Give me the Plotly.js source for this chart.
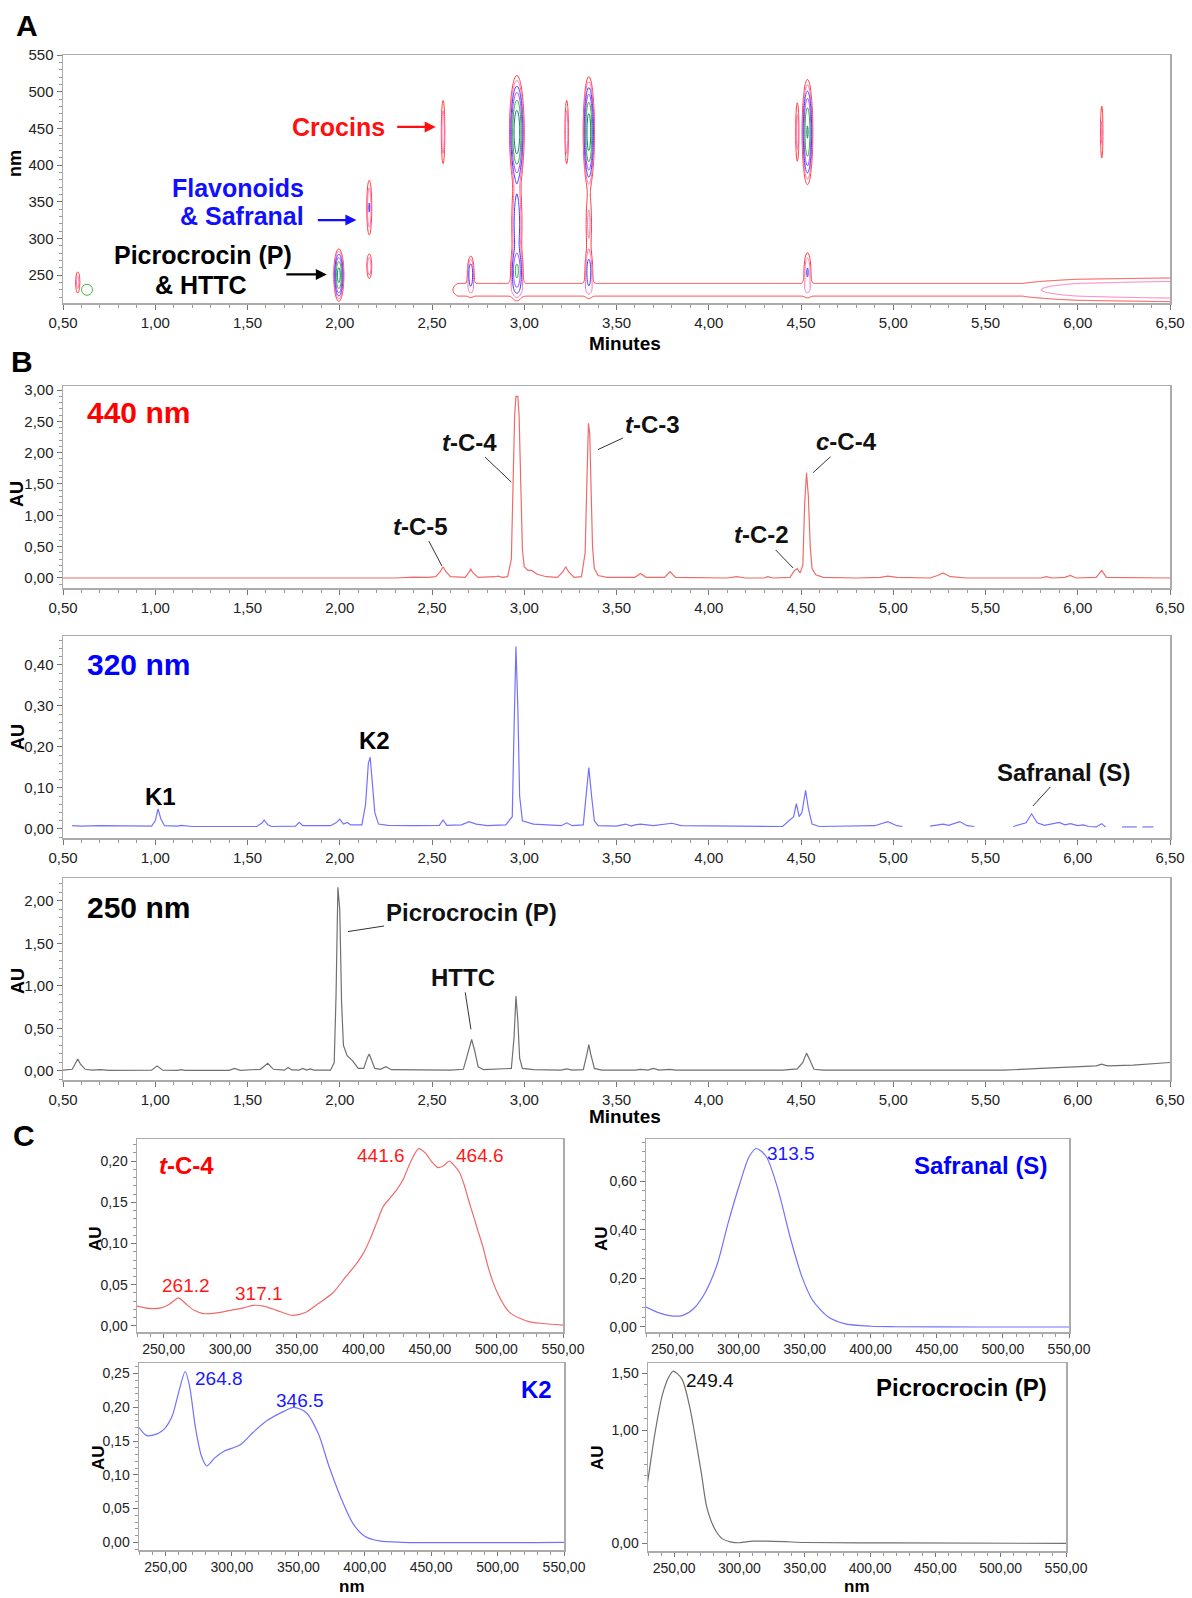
<!DOCTYPE html>
<html><head><meta charset="utf-8">
<script src="https://cdn.plot.ly/plotly-3.0.1.min.js"></script>
<style>html,body{margin:0;padding:0;background:#fff}#chart{width:1192px;height:1598px}</style>
</head><body><div id="chart"></div>
<script>
// ---------- Panel B chromatograms ----------
const t440 = [0.50,2.30,2.40,2.48,2.52,2.545,2.56,2.575,2.60,2.68,2.70,2.71,2.72,2.75,2.84,2.86,2.88,2.91,2.93,2.94,2.948,2.955,2.965,2.972,2.98,2.99,3.00,3.02,3.04,3.07,3.12,3.18,3.21,3.225,3.24,3.27,3.31,3.33,3.34,3.348,3.355,3.362,3.37,3.38,3.40,3.45,3.60,3.63,3.66,3.76,3.79,3.82,4.10,4.15,4.20,4.30,4.32,4.35,4.44,4.465,4.48,4.495,4.51,4.52,4.53,4.54,4.55,4.56,4.58,4.62,4.80,4.93,4.97,5.02,5.20,5.24,5.27,5.31,5.40,5.80,5.83,5.86,5.93,5.96,5.99,6.10,6.13,6.155,6.50];
const au440 = [0.00,0.00,0.015,0.01,0.02,0.10,0.18,0.10,0.02,0.01,0.09,0.14,0.09,0.01,0.02,0.03,0.01,0.02,0.30,1.40,2.60,2.90,2.90,2.60,1.40,0.45,0.18,0.12,0.12,0.06,0.02,0.01,0.10,0.18,0.10,0.01,0.02,0.40,1.60,2.47,2.30,1.40,0.50,0.15,0.04,0.01,0.01,0.07,0.01,0.01,0.10,0.01,0.00,0.02,0.00,0.00,0.02,0.00,0.01,0.12,0.15,0.08,0.20,1.20,1.68,1.30,0.50,0.15,0.05,0.01,0.00,0.01,0.03,0.01,0.00,0.04,0.08,0.02,0.00,0.00,0.02,0.00,0.01,0.04,0.00,0.01,0.12,0.01,0.00];

const t320 = [0.55,0.60,0.70,0.98,1.00,1.015,1.03,1.05,1.12,1.14,1.20,1.55,1.58,1.59,1.61,1.63,1.76,1.78,1.80,1.95,1.98,2.00,2.02,2.04,2.06,2.12,2.14,2.155,2.165,2.175,2.19,2.21,2.26,2.40,2.54,2.56,2.58,2.66,2.70,2.74,2.80,2.90,2.935,2.945,2.955,2.965,2.975,2.99,3.05,3.20,3.23,3.26,3.32,3.335,3.35,3.365,3.38,3.40,3.50,3.55,3.58,3.60,3.63,3.70,3.80,3.85,4.40,4.46,4.475,4.49,4.505,4.525,4.54,4.56,4.60,4.90,4.97,5.02,5.05,5.06,5.20,5.27,5.30,5.36,5.40,5.44,5.45,5.65,5.72,5.75,5.78,5.82,5.90,5.93,5.96,6.00,6.03,6.06,6.10,6.13,6.15,6.16,6.24,6.32,6.33,6.35,6.41];
const au320 = [0.008,0.007,0.008,0.007,0.02,0.049,0.025,0.008,0.007,0.009,0.006,0.006,0.015,0.022,0.01,0.006,0.007,0.016,0.008,0.008,0.015,0.024,0.012,0.016,0.01,0.01,0.06,0.16,0.175,0.12,0.04,0.012,0.009,0.008,0.009,0.022,0.009,0.01,0.018,0.012,0.008,0.01,0.03,0.25,0.445,0.30,0.08,0.02,0.012,0.008,0.015,0.008,0.01,0.08,0.15,0.08,0.02,0.008,0.007,0.012,0.007,0.01,0.012,0.008,0.014,0.008,0.006,0.03,0.062,0.03,0.04,0.094,0.05,0.012,0.006,0.008,0.018,0.008,0.006,null,0.007,0.012,0.009,0.018,0.008,0.006,null,0.006,0.015,0.037,0.015,0.009,0.016,0.01,0.013,0.008,0.01,0.006,0.005,0.013,0.005,null,0.005,0.005,null,0.005,0.005];

const t250 = [0.50,0.55,0.57,0.58,0.595,0.62,0.66,0.70,0.75,0.98,1.01,1.04,1.12,1.14,1.16,1.40,1.43,1.46,1.57,1.61,1.64,1.70,1.72,1.74,1.78,1.80,1.82,1.84,1.86,1.95,1.97,1.98,1.99,2.00,2.01,2.02,2.04,2.07,2.10,2.13,2.15,2.16,2.17,2.19,2.22,2.25,2.28,2.50,2.56,2.60,2.67,2.70,2.715,2.73,2.75,2.78,2.90,2.93,2.945,2.955,2.965,2.975,2.99,3.05,3.20,3.23,3.26,3.32,3.34,3.35,3.36,3.38,3.42,3.60,3.63,3.67,3.70,3.73,3.79,3.82,4.40,4.48,4.51,4.53,4.55,4.57,4.62,5.20,5.30,5.60,5.80,6.00,6.10,6.13,6.16,6.30,6.50];
const au250 = [0.01,0.02,0.10,0.14,0.08,0.02,0.01,0.015,0.008,0.01,0.06,0.01,0.008,0.015,0.008,0.008,0.03,0.008,0.02,0.09,0.02,0.01,0.04,0.012,0.01,0.03,0.01,0.025,0.01,0.01,0.10,0.90,2.16,1.90,0.80,0.30,0.18,0.12,0.03,0.03,0.16,0.20,0.14,0.03,0.02,0.05,0.015,0.01,0.015,0.01,0.02,0.25,0.37,0.25,0.05,0.015,0.02,0.03,0.40,0.88,0.60,0.15,0.03,0.015,0.01,0.025,0.01,0.015,0.20,0.31,0.20,0.03,0.01,0.01,0.02,0.01,0.03,0.01,0.02,0.01,0.01,0.025,0.10,0.21,0.12,0.02,0.01,0.012,0.01,0.01,0.03,0.05,0.06,0.08,0.06,0.07,0.10];

// ---------- Panel C UV spectra ----------
const nmTC4 = [230,236,242,248,254,258,261,264,268,273,280,290,300,310,317,325,335,346,356,366,377,387,395,400,405,410,415,420,425,430,435,441.6,447,451,456,460,464.6,468,472,476,479,483,486,490,493,497,502,507,511,518,525,535,550];
const auTC4 = [0.024,0.022,0.021,0.022,0.026,0.031,0.034,0.031,0.025,0.019,0.015,0.016,0.019,0.022,0.025,0.024,0.019,0.013,0.016,0.027,0.040,0.060,0.076,0.088,0.105,0.125,0.145,0.155,0.165,0.178,0.197,0.215,0.209,0.200,0.192,0.194,0.200,0.195,0.187,0.170,0.153,0.132,0.116,0.095,0.076,0.055,0.036,0.022,0.015,0.009,0.005,0.003,0.001];
const nmSaf = [230,240,250,258,266,275,284,292,301,308,313.5,321,330,339,348,356,368,380,400,420,480,550];
const auSaf = [0.082,0.058,0.045,0.048,0.075,0.144,0.26,0.425,0.59,0.70,0.734,0.70,0.563,0.37,0.206,0.11,0.041,0.014,0.003,0.001,0.0,0.0];
const nmK2 = [230,236,245,250,255,260.5,264.8,268,272.5,277,281,287,294,306,316,327,339,346.5,356,365,373,382,391,400,411,428,550];
const auK2 = [0.170,0.158,0.162,0.170,0.187,0.227,0.253,0.232,0.170,0.128,0.113,0.125,0.135,0.144,0.163,0.181,0.194,0.200,0.192,0.161,0.113,0.066,0.028,0.009,0.002,0.0,0.0];
const nmPic = [227,231,235,241,246,249.4,256,262,266,271,275,281,287,293,300,310,320,335,350,420,550];
const auPic = [0.34,0.64,0.95,1.31,1.47,1.52,1.45,1.20,0.95,0.61,0.32,0.13,0.04,0.014,0.006,0.02,0.02,0.015,0.008,0.005,0.0];

// ---------- Panel A: peak table ----------
const compRt      = [0.58, 1.995, 2.16, 2.16, 2.56, 2.71, 2.96, 2.96, 2.96, 3.23, 3.35, 3.35, 3.35, 4.48, 4.535, 4.535, 6.13];
const compWidth   = [0.008,0.010,0.008,0.008,0.006,0.009,0.014,0.014,0.014,0.006,0.011,0.011,0.011,0.006,0.011,0.011,0.005];
const compNm      = [240, 250, 262, 342, 445, 252, 445, 320, 255, 445, 445, 320, 255, 445, 445, 255, 445];
const compNmWidth = [10, 13, 10, 22, 27, 12, 27, 35, 15, 27, 27, 30, 15, 27, 27, 15, 27];
const compHeight  = [0.14, 2.16, 0.20, 0.21, 0.18, 0.37, 2.90, 0.35, 0.88, 0.18, 2.47, 0.12, 0.31, 0.15, 1.68, 0.21, 0.12];
const ridgeT  = [0.50, 2.56, 2.64, 5.70, 6.00, 6.50];
const ridgeAU = [0.00, 0.00, 0.075, 0.075, 0.15, 0.20];
const ridgeNm = 230, ridgeNmWidth = 9.7;
const contourLevels = [0.05, 0.1, 0.2, 0.4, 0.8, 1.6];
const artifactT = [0.63], artifactNm = [230];

// ---------- build contour grid ----------
const tGrid = [], nmGrid = [];
for (let i = 0; i <= 2000; i++) tGrid.push(0.5 + i * 0.003);
for (let j = 0; j <= 114; j++) nmGrid.push(211 + j * 3);
function ridgeAt(t){
  for (let k = 0; k < ridgeT.length - 1; k++){
    if (t >= ridgeT[k] && t <= ridgeT[k+1]){
      const f = (t - ridgeT[k]) / (ridgeT[k+1] - ridgeT[k]);
      return ridgeAU[k] + f * (ridgeAU[k+1] - ridgeAU[k]);
    }
  }
  return 0;
}
const ridgeVals = tGrid.map(ridgeAt);
const zA = nmGrid.map(nm => {
  const rg = Math.exp(-0.5 * ((nm - ridgeNm) / ridgeNmWidth) ** 2);
  return tGrid.map((t, i) => {
    let s = ridgeVals[i] * rg;
    for (let k = 0; k < compRt.length; k++){
      const dt = (t - compRt[k]) / compWidth[k];
      if (Math.abs(dt) > 7) continue;
      const dn = (nm - compNm[k]) / compNmWidth[k];
      s += compHeight[k] * Math.exp(-0.5 * (dt*dt + dn*dn));
    }
    return Math.log10(s + 1e-4);
  });
});
const lvStart = Math.log10(contourLevels[0]);
const lvSize = Math.log10(contourLevels[1] / contourLevels[0]);
const lvEnd = Math.log10(contourLevels[contourLevels.length-1]);

// ---------- layout helpers ----------
const W = 1192, H = 1598;
const FONT = 'Liberation Sans, Arial, Helvetica, sans-serif';
const dx = (a, b) => [a / W, b / W];
const dy = (top, bottom) => [1 - bottom / H, 1 - top / H];
function axis(extra){
  return Object.assign({
    showline: true, mirror: true, linecolor: '#ababab', linewidth: 1.5,
    ticks: 'outside', ticklen: 5, tickwidth: 1, tickcolor: '#777',
    showgrid: false, zeroline: false, fixedrange: true,
    tickfont: {family: FONT, size: 15, color: '#222'}
  }, extra);
}
const minorT = d => ({ticks: 'outside', ticklen: 3, tickcolor: '#999', dtick: d, showgrid: false});

const RED = '#f06a6a', BLUE = '#7272ff', GRAY = '#707070';
const lineTrace = (x, y, xa, ya, color, smooth) => ({
  type: 'scatter', mode: 'lines', x, y, xaxis: xa, yaxis: ya,
  line: smooth ? {color, width: 1.2, shape: 'spline', smoothing: 0.8} : {color, width: 1.2},
  hoverinfo: 'skip', showlegend: false, connectgaps: false
});

const traces = [
  {
    type: 'contour', x: tGrid, y: nmGrid, z: zA, xaxis: 'x', yaxis: 'y',
    autocontour: false,
    contours: {coloring: 'lines', start: lvStart, end: lvEnd + 1e-6, size: lvSize},
    zmin: lvStart, zmax: lvEnd,
    colorscale: [[0,'#ff3a3a'],[0.1,'#ff3a3a'],[0.1,'#ff6fb5'],[0.3,'#ff6fb5'],[0.3,'#3a3aff'],[0.5,'#3a3aff'],
                 [0.5,'#9a3aff'],[0.7,'#9a3aff'],[0.7,'#22b022'],[0.9,'#22b022'],[0.9,'#008080'],[1,'#008080']],
    line: {width: 1, smoothing: 1}, showscale: false, hoverinfo: 'skip'
  },
  {type: 'scatter', mode: 'markers', x: artifactT, y: artifactNm, xaxis: 'x', yaxis: 'y',
   marker: {symbol: 'circle-open', size: 11, color: '#44bb44', line: {width: 1}}, hoverinfo: 'skip', showlegend: false},
  lineTrace(t440, au440, 'x2', 'y2', RED, false),
  lineTrace(t320, au320, 'x3', 'y3', BLUE, false),
  lineTrace(t250, au250, 'x4', 'y4', GRAY, false),
  lineTrace(nmTC4, auTC4, 'x5', 'y5', RED, true),
  lineTrace(nmSaf, auSaf, 'x6', 'y6', BLUE, true),
  lineTrace(nmK2, auK2, 'x7', 'y7', BLUE, true),
  lineTrace(nmPic, auPic, 'x8', 'y8', GRAY, true)
];

const minX = {range: [0.5, 6.5], dtick: 0.5, tick0: 0.5, tickformat: '.2f', minor: minorT(0.1)};
const specX = {range: [230, 550], dtick: 50, tick0: 250, tickformat: '.2f', minor: minorT(10), ticklen: 4,
               tickfont: {family: FONT, size: 14, color: '#222'}};
const specYf = {family: FONT, size: 14, color: '#222'};

// ---------- annotations ----------
const ann = [];
function pa(text, px, py, size, color, opts){
  ann.push(Object.assign({xref: 'paper', yref: 'paper', x: px / W, y: 1 - py / H, text, showarrow: false,
    xanchor: 'center', yanchor: 'middle', font: {family: FONT, size, color}}, opts || {}));
}
function lead(text, xr, yr, x, y, axp, ayp, size){
  ann.push({xref: xr, yref: yr, x, y, ax: axp, ay: ayp, text, showarrow: true, arrowhead: 0,
    arrowwidth: 1, arrowcolor: '#333', standoff: 0, font: {family: FONT, size, color: '#111'}});
}
function arrow(x, y, axp, color){
  ann.push({xref: 'x', yref: 'y', x, y, ax: axp, ay: 0, text: '', showarrow: true, arrowhead: 2,
    arrowsize: 1, arrowwidth: 2.2, arrowcolor: color});
}
// panel letters
pa('<b>A</b>', 27, 25, 30, '#000');
pa('<b>B</b>', 22, 362, 30, '#000');
pa('<b>C</b>', 24, 1135, 30, '#000');
// panel A
pa('<b>Crocins</b>', 338, 127, 25, '#ff1010');
arrow(2.52, 452, -40, '#ff1010');
pa('<b>Flavonoids</b>', 306, 188, 25, '#1010ff', {xanchor: 'right'});
pa('<b>& Safranal</b>', 306, 216, 25, '#1010ff', {xanchor: 'right'});
arrow(2.09, 325, -40, '#1010ff');
pa('<b>Picrocrocin (P)</b>', 203, 255, 25, '#000');
pa('<b>& HTTC</b>', 201, 285, 25, '#000');
arrow(1.93, 251, -42, '#000');
pa('<b>nm</b>', 15, 163, 18, '#000', {textangle: -90});
pa('<b>Minutes</b>', 625, 344, 19, '#000');
// panel B
pa('<b>440 nm</b>', 138, 413, 30, '#ff0000');
pa('<b>320 nm</b>', 138, 665, 30, '#0000ff');
pa('<b>250 nm</b>', 138, 907, 30, '#000');
lead('<b><i>t</i>-C-4</b>', 'x2', 'y2', 2.93, 1.53, -42, -40, 24);
lead('<b><i>t</i>-C-5</b>', 'x2', 'y2', 2.554, 0.19, -21, -40, 24);
lead('<b><i>t</i>-C-3</b>', 'x2', 'y2', 3.40, 2.05, 54, -25, 24);
lead('<b><i>c</i>-C-4</b>', 'x2', 'y2', 4.565, 1.68, 34, -31, 24);
lead('<b><i>t</i>-C-2</b>', 'x2', 'y2', 4.457, 0.16, -32, -33, 24);
pa('<b>K1</b>', 160, 797, 24, '#000');
pa('<b>K2</b>', 374, 740, 24, '#000');
lead('<b>Safranal (S)</b>', 'x3', 'y3', 5.757, 0.056, 31, -34, 24);
lead('<b>Picrocrocin (P)</b>', 'x4', 'y4', 2.045, 1.64, 123, -19, 24);
lead('<b>HTTC</b>', 'x4', 'y4', 2.711, 0.49, -8, -52, 24);
pa('<b>AU</b>', 17, 494, 18, '#000', {textangle: -90});
pa('<b>AU</b>', 18, 737, 18, '#000', {textangle: -90});
pa('<b>AU</b>', 18, 981, 18, '#000', {textangle: -90});
pa('<b>Minutes</b>', 625, 1116, 19, '#000');
// panel C
pa('<b><i>t</i>-C-4</b>', 186, 1165, 24, '#ff0000');
pa('441.6', 381, 1155, 19, '#ff1a1a');
pa('464.6', 480, 1155, 19, '#ff1a1a');
pa('261.2', 186, 1285, 19, '#ff1a1a');
pa('317.1', 259, 1293, 19, '#ff1a1a');
pa('313.5', 791, 1153, 19, '#1a1aff');
pa('<b>Safranal (S)</b>', 980, 1165, 24, '#0000ff');
pa('264.8', 219, 1378, 19, '#1a1aff');
pa('346.5', 300, 1400, 19, '#1a1aff');
pa('<b>K2</b>', 536, 1389, 24, '#0000ff');
pa('249.4', 710, 1380, 19, '#111');
pa('<b>Picrocrocin (P)</b>', 961, 1387, 24, '#000');
pa('<b>AU</b>', 95, 1239, 17, '#000', {textangle: -90});
pa('<b>AU</b>', 601, 1239, 17, '#000', {textangle: -90});
pa('<b>AU</b>', 98, 1458, 17, '#000', {textangle: -90});
pa('<b>AU</b>', 597, 1458, 17, '#000', {textangle: -90});
pa('<b>nm</b>', 352, 1598, 17, '#000', {yanchor: 'bottom'});
pa('<b>nm</b>', 857, 1598, 17, '#000', {yanchor: 'bottom'});

const layout = {
  width: W, height: H, margin: {l: 0, r: 0, t: 0, b: 0},
  paper_bgcolor: '#fff', plot_bgcolor: '#fff', showlegend: false,
  separators: ',.', font: {family: FONT},
  xaxis:  axis(Object.assign({}, minX, {domain: dx(63, 1170), anchor: 'y'})),
  yaxis:  axis({domain: dy(55, 303), anchor: 'x', range: [212, 550], dtick: 50, tick0: 250, minor: minorT(10)}),
  xaxis2: axis(Object.assign({}, minX, {domain: dx(63, 1170), anchor: 'y2'})),
  yaxis2: axis({domain: dy(386, 588), anchor: 'x2', range: [-0.16, 3.064], dtick: 0.5, tick0: 0, tickformat: '.2f', minor: minorT(0.1)}),
  xaxis3: axis(Object.assign({}, minX, {domain: dx(63, 1170), anchor: 'y3'})),
  yaxis3: axis({domain: dy(636, 838), anchor: 'x3', range: [-0.022, 0.4707], dtick: 0.1, tick0: 0, tickformat: '.2f', minor: minorT(0.02)}),
  xaxis4: axis(Object.assign({}, minX, {domain: dx(63, 1170), anchor: 'y4'})),
  yaxis4: axis({domain: dy(878, 1080), anchor: 'x4', range: [-0.106, 2.27], dtick: 0.5, tick0: 0, tickformat: '.2f', minor: minorT(0.1)}),
  xaxis5: axis(Object.assign({}, specX, {domain: dx(137, 563), anchor: 'y5'})),
  yaxis5: axis({domain: dy(1139, 1332), anchor: 'x5', range: [-0.0073, 0.2267], dtick: 0.05, tick0: 0, tickformat: '.2f', minor: minorT(0.01), tickfont: specYf}),
  xaxis6: axis(Object.assign({}, specX, {domain: dx(646, 1069), anchor: 'y6'})),
  yaxis6: axis({domain: dy(1139, 1332), anchor: 'x6', range: [-0.0206, 0.773], dtick: 0.2, tick0: 0, tickformat: '.2f', minor: minorT(0.04), tickfont: specYf}),
  xaxis7: axis(Object.assign({}, specX, {domain: dx(139, 564), anchor: 'y7'})),
  yaxis7: axis({domain: dy(1363, 1550), anchor: 'x7', range: [-0.0114, 0.2656], dtick: 0.05, tick0: 0, tickformat: '.2f', minor: minorT(0.01), tickfont: specYf}),
  xaxis8: axis(Object.assign({}, specX, {domain: dx(648, 1066), anchor: 'y8'})),
  yaxis8: axis({domain: dy(1363, 1551), anchor: 'x8', range: [-0.067, 1.592], tickmode: 'array', tickvals: [0, 1, 1.5], tickformat: '.2f', minor: minorT(0.1), tickfont: specYf}),
  annotations: ann
};

Plotly.newPlot('chart', traces, layout, {staticPlot: true, displayModeBar: false});
</script></body></html>
